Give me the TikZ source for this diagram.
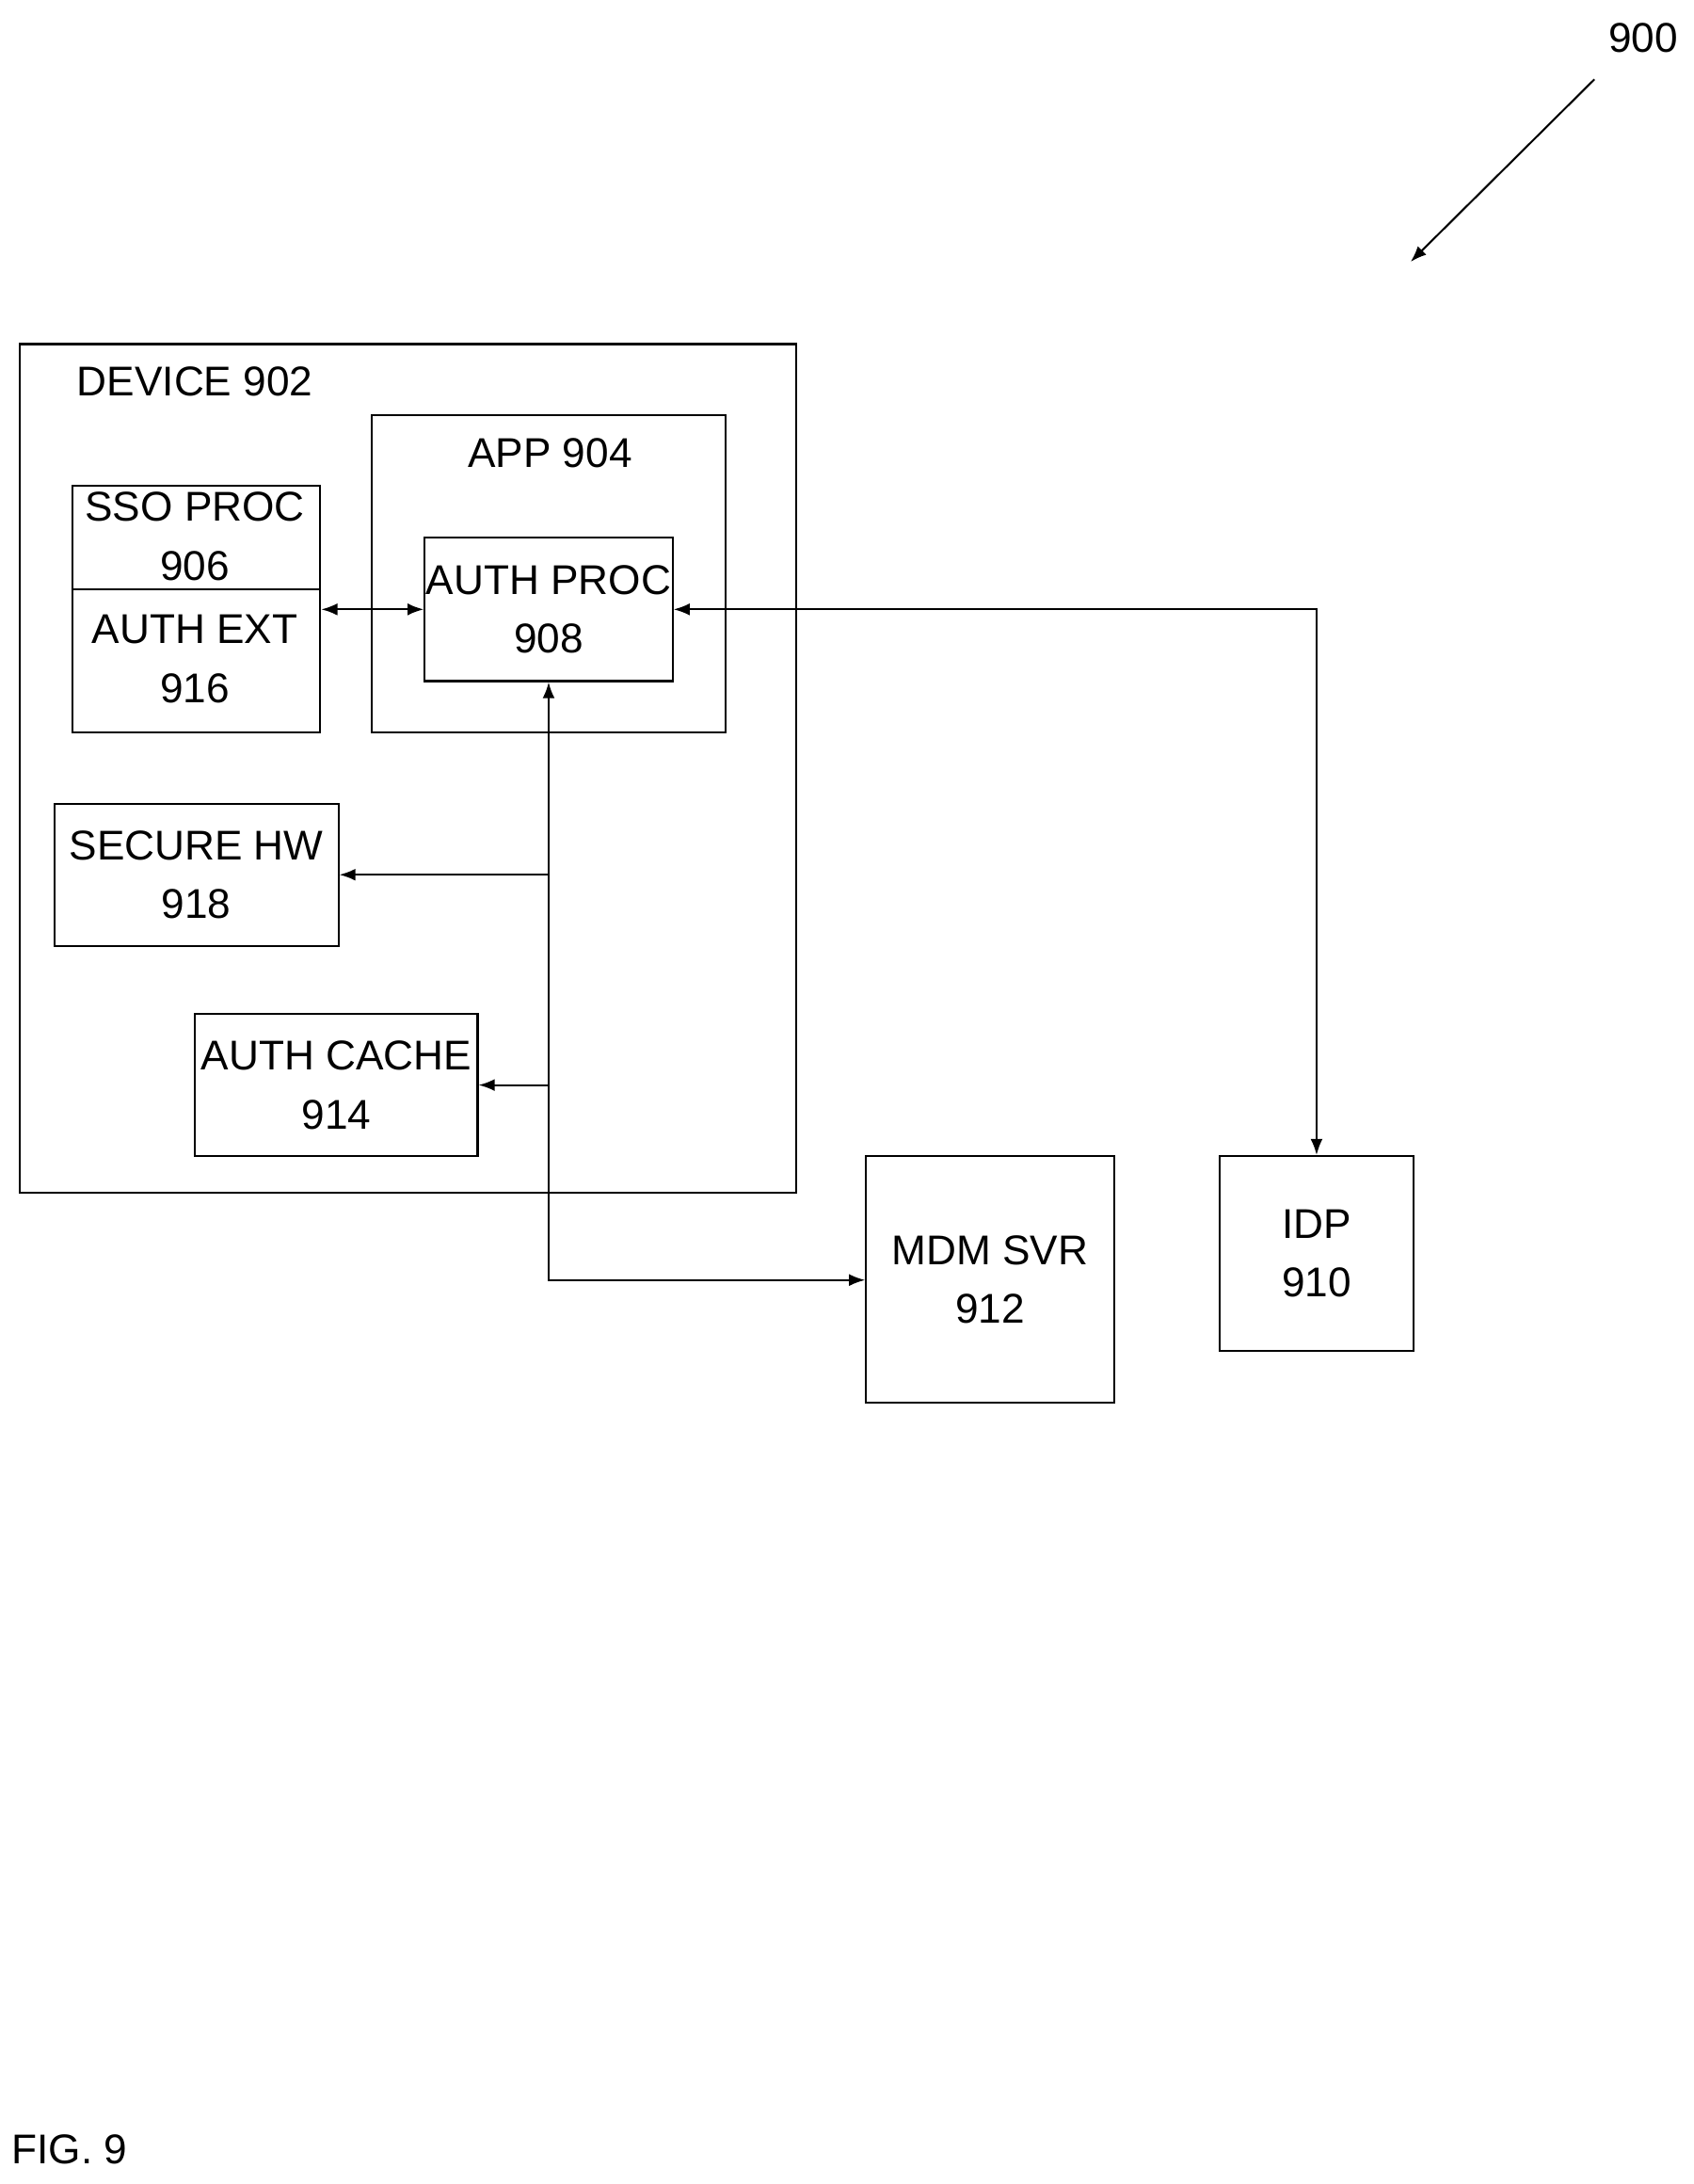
\documentclass[tikz,border=0pt]{standalone}
\usepackage{fontspec}
\setmainfont{Liberation Sans}
\usetikzlibrary{arrows.meta,positioning}
\tikzset{
  box/.style={draw, thick, align=center, inner sep=0pt},
  lbl/.style={align=center, font=\fontsize{17}{24}\selectfont},
  arrow/.style={-Latex, thick},
  darrow/.style={Latex-Latex, thick}
}
\begin{document}
\begin{tikzpicture}[x=0.02cm, y=-0.02cm]
  \useasboundingbox (0,0) rectangle (1216,1568);
  % device
  \draw[thick] (14,247) rectangle (572,856);
  \node[lbl] (devlbl) at (140,274) {DEVICE 902};
  \draw[thick] (267,298) rectangle (521,526);
  \node[lbl] (applbl) at (395,325) {APP 904};
  \node[box, minimum width=178*0.02cm, minimum height=177*0.02cm] (sso) at (141,437.5) {};
  \draw[thick] (sso.west |- 0,423) -- (sso.east |- 0,423);
  \node[lbl] (ssolbl) at (140,385) {SSO PROC\\906};
  \node[lbl] (ext) at (140,473) {AUTH EXT\\916};
  \node[box, lbl, minimum width=178*0.02cm, minimum height=103*0.02cm] (auth) at (394,437.5) {AUTH PROC\\908};
  \node[box, lbl, minimum width=204*0.02cm, minimum height=102*0.02cm] (hw) at (141,628) {SECURE HW\\918};
  \node[box, lbl, minimum width=203*0.02cm, minimum height=102*0.02cm] (cache) at (241.5,779) {AUTH CACHE\\914};
  % servers
  \node[box, lbl, minimum width=178*0.02cm, minimum height=177*0.02cm] (mdm) at (711,918.5) {MDM SVR\\912};
  \node[box, lbl, minimum width=139*0.02cm, minimum height=140*0.02cm] (idp) at (945.5,900) {IDP\\910};
  % connectors
  \coordinate (j1) at (394,628);
  \coordinate (j2) at (394,779);
  \draw[darrow] (sso.east |- auth) -- (auth.west);
  \draw[darrow] (auth.east) -| (idp.north);
  \draw[darrow] (auth.south) |- (mdm.west |- 0,919);
  \draw[arrow] (j1) -- (hw.east |- j1);
  \draw[arrow] (j2) -- (cache.east |- j2);
  % figure label
  \node[lbl] (ref) at (1180,27) {900};
  \coordinate (refa) at (1145,57);
  \coordinate (refb) at (1013,188);
  \draw[arrow] (refa) -- (refb);
  \node[lbl] (fig) at (50,1543) {FIG. 9};
\end{tikzpicture}
\end{document}
